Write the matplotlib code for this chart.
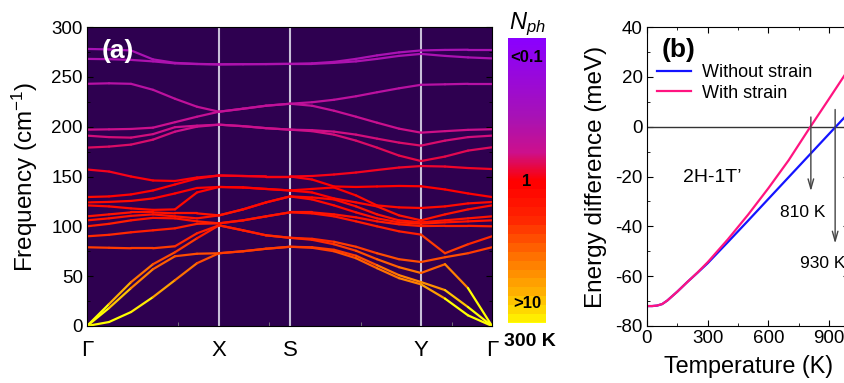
import numpy as np
import matplotlib
matplotlib.use('Agg')
import matplotlib.pyplot as plt
from matplotlib.collections import LineCollection
from matplotlib.colors import LinearSegmentedColormap, ListedColormap, LogNorm
from matplotlib.ticker import MultipleLocator, FixedLocator
from matplotlib.cm import ScalarMappable

plt.rcParams['font.family'] = ['Liberation Sans', 'DejaVu Sans']
plt.rcParams['axes.unicode_minus'] = False
plt.rcParams['mathtext.fontset'] = 'custom'
plt.rcParams['mathtext.rm'] = 'Liberation Sans'
plt.rcParams['mathtext.it'] = 'Liberation Sans:italic'

# ---- panel (a): phonon bands along G-X-S-Y-G ----
k_path = [0, 22, 44, 66, 88, 110, 132, 156, 179, 203, 225, 247, 269, 290, 312, 334, 358, 381, 405]
k_ticks = [0, 132, 203, 334, 405]
k_labels = ['Γ', 'X', 'S', 'Y', 'Γ']

# frequencies (cm-1) of all 18 branches at each k point
freq_cols = [
    [0, 0, 0, 79, 90, 100, 106, 110, 121, 124, 129.4, 157, 179, 191, 197, 243, 268, 278],
    [4, 18, 22, 78.5, 91.5, 102.5, 108, 112, 120, 124.5, 130, 155, 180, 189.5, 197.3, 243.5, 267.7, 277.5],
    [14, 38, 44, 78, 94, 106, 110.5, 114, 118, 125.5, 132, 150, 182, 189, 197.7, 243, 267, 276.5],
    [29, 57, 62, 78, 96, 108.5, 112, 114, 116.5, 128, 136, 146, 187, 192.5, 199, 237, 265.5, 267.5],
    [46, 70, 74, 80, 98, 108, 110, 113, 117, 133, 142, 145.5, 195, 199.5, 204.5, 228, 263.5, 264],
    [63, 72.5, 88, 93, 102.5, 105, 108, 113, 134, 138.5, 148, 149, 200, 201, 210, 220, 262.8, 263],
    [73, 73, 101, 101, 103, 103, 111, 111, 139.5, 139.5, 151, 151, 202, 202, 215, 215, 262.5, 262.5],
    [75, 75, 96, 96, 106, 106, 117, 117, 139, 139, 150.5, 150.5, 200.5, 200.5, 218, 218, 262.7, 262.7],
    [77.5, 77.5, 91, 91, 110, 110, 124, 124, 137.5, 137.5, 150, 150, 198.5, 198.5, 221, 221, 262.8, 262.8],
    [79.5, 79.5, 88.5, 88.5, 114, 114, 130, 130, 136, 136, 150, 150, 197, 197, 223, 223, 263, 263],
    [78.5, 79, 86.5, 87.5, 113, 114, 127, 129, 134, 137.5, 147, 150.5, 196.5, 195.5, 221, 224.5, 263, 263.5],
    [75, 76.5, 82, 84.5, 110, 112, 121, 127, 128, 139, 140, 152, 195, 192, 216, 227, 264, 265],
    [68, 70.5, 75.5, 79.5, 105, 109, 114, 124, 120, 139.5, 131, 154, 192, 186, 210, 230.5, 265.5, 268],
    [58, 61, 67, 73, 100, 105, 108, 121, 112, 140, 120, 156.5, 188, 179, 204, 234.5, 268, 271.5],
    [48, 51, 59, 67, 95, 102, 104, 119, 106, 140.5, 111, 159, 184, 171, 198, 238.5, 271, 274.5],
    [41.8, 44.1, 53.2, 64.2, 91.7, 100.3, 102.7, 118.4, 104, 140.2, 106, 160.5, 181, 165.5, 194, 242, 273, 276.5],
    [27.5, 36, 62, 69, 73, 100.5, 104, 106, 112, 120, 137, 160, 170, 186, 195.5, 242.5, 271, 277],
    [10.7, 19, 38, 73, 82, 100.5, 105, 108, 117, 123, 133, 158.5, 176, 189.5, 196.8, 243, 269.5, 277.2],
    [0, 0, 0, 79, 90, 100, 106, 110, 121, 124.4, 129.4, 157.5, 179.3, 191, 197.4, 243, 268.5, 277.2],
]

# ---- panel (b): 2H-1T' energy difference ----
temperature = [0, 25, 50, 75, 100, 150, 200, 250, 300, 400, 500, 600, 700, 800, 900, 1000]
e_without = [-72, -72, -71.8, -71.2, -69.8, -66.2, -62.3, -58.6, -54.8, -46.3, -37.7, -29.0, -20.3, -11.6, -2.9, 5.8]
e_with = [-72, -72, -71.8, -71.2, -69.8, -66.2, -62.3, -58.5, -54.4, -45.2, -35.3, -24.7, -13.5, -1.0, 11.2, 23.5]
t_trans = [810, 930]

# colour map for phonon occupation N_ph (purple = few, yellow = many)
base = LinearSegmentedColormap.from_list('nph', [
    (0.0, '#8a00ff'), (0.28, '#a812b4'), (0.40, '#cc108c'), (0.5, '#ff0000'),
    (0.62, '#ff2400'), (0.75, '#ff7000'), (0.88, '#ffb000'), (1.0, '#ffff00')])
vals = np.linspace(0, 1, 256)
steps = np.where(vals > 0.5, 0.5 + np.floor((vals - 0.5) * 32) / 32, vals)
cmap = ListedColormap(base(steps))
norm = LogNorm(0.1, 10)

fig = plt.figure(figsize=(8.45, 3.83), dpi=100)

ax = fig.add_axes([87/845, 57/383, 405/845, 299/383])
ax.set_facecolor('#2e0050')
freqs = np.sort(np.array(freq_cols), axis=1)
k = np.array(k_path, dtype=float)
segs, cols = [], []
for b in range(freqs.shape[1]):
    f = freqs[:, b]
    for i in range(len(k) - 1):
        segs.append([(k[i], f[i]), (k[i+1], f[i+1])])
        fm = max(0.5 * (f[i] + f[i+1]), 0.5)
        cols.append(1.0 / (np.exp(fm / 208.5) - 1.0))
lc = LineCollection(segs, cmap=cmap, norm=norm, linewidths=1.6, capstyle='round')
lc.set_array(np.clip(cols, 0.1, 10))
ax.add_collection(lc)
for kt in k_ticks[1:-1]:
    ax.axvline(kt, color='#c8c0d8', lw=1.5, zorder=0.5)
ax.set_xlim(0, 405)
ax.set_ylim(0, 300)
ax.set_xticks(k_ticks)
ax.set_xticklabels(k_labels, fontsize=16)
ax.xaxis.set_minor_locator(FixedLocator([91, 182, 274, 365]))
ax.tick_params(axis='x', which='major', length=0, pad=10)
ax.tick_params(axis='x', which='minor', length=3, color='#808080', direction='in')
ax.yaxis.set_major_locator(MultipleLocator(50))
ax.yaxis.set_minor_locator(MultipleLocator(25))
ax.tick_params(axis='y', which='both', direction='in', left=True, right=True, labelsize=13.5, pad=3)
ax.tick_params(axis='y', which='major', length=4)
ax.tick_params(axis='y', which='minor', length=2.5)
ax.set_ylabel('Frequency (cm$^{-1}$)', fontsize=17.5, labelpad=8)
ax.text(0.037, 0.92, '(a)', transform=ax.transAxes, color='white', fontsize=19,
        fontweight='bold', ha='left', va='center')

cax = fig.add_axes([508/845, 60/383, 38/845, 285/383])
cb = fig.colorbar(ScalarMappable(norm=norm, cmap=cmap), cax=cax)
cax.invert_yaxis()
cb.outline.set_visible(False)
cax.set_yticks([])
cax.minorticks_off()
cax.tick_params(which='both', length=0, labelright=False)
fig.text(527/845, 1 - 57/383, '<0.1', fontsize=12, fontweight='bold', ha='center', va='center')
fig.text(527/845, 1 - 181/383, '1', fontsize=12, fontweight='bold', ha='center', va='center')
fig.text(527/845, 1 - 303/383, '>10', fontsize=12, fontweight='bold', ha='center', va='center')
fig.text(527/845, 1 - 24/383, '$N_{ph}$', fontsize=17, ha='center', va='center')
fig.text(530/845, 1 - 342/383, '300 K', fontsize=14, fontweight='bold', ha='center', va='center')

bx = fig.add_axes([647/845, 57/383, 202.3/845, 299/383])
bx.axhline(0, color='#333333', lw=1.0)
bx.plot(temperature, e_without, color='#1414ff', lw=1.6, label='Without strain')
bx.plot(temperature, e_with, color='#ff1480', lw=1.6, label='With strain')
bx.annotate('', xy=(t_trans[0], -27), xytext=(t_trans[0], 5),
            arrowprops=dict(arrowstyle='->,head_length=0.7,head_width=0.2', color='#444444', lw=1))
bx.annotate('', xy=(t_trans[1], -48), xytext=(t_trans[1], 8),
            arrowprops=dict(arrowstyle='->,head_length=0.7,head_width=0.2', color='#444444', lw=1))
bx.text(770, -34.6, f'{t_trans[0]} K', fontsize=12.5, ha='center', va='center')
bx.text(756, -55, f'{t_trans[1]} K', fontsize=12.5, ha='left', va='center')
bx.text(178, -20.6, '2H-1T’', fontsize=14, ha='left', va='center')
bx.text(0.074, 0.923, '(b)', transform=bx.transAxes, fontsize=19, fontweight='bold',
        ha='left', va='center')
bx.set_xlim(0, 1000)
bx.set_ylim(-80, 40)
bx.xaxis.set_major_locator(MultipleLocator(300))
bx.xaxis.set_minor_locator(MultipleLocator(150))
bx.yaxis.set_major_locator(MultipleLocator(20))
bx.yaxis.set_minor_locator(MultipleLocator(10))
bx.tick_params(which='both', direction='in', top=True, right=True, labelsize=13.5, pad=3)
bx.tick_params(which='major', length=4)
bx.tick_params(which='minor', length=2.5)
bx.set_xlabel('Temperature (K)', fontsize=16.8, labelpad=6)
bx.set_ylabel('Energy difference (meV)', fontsize=17.5, labelpad=6)
bx.legend(frameon=False, loc='upper left', bbox_to_anchor=(0.049, 0.876), fontsize=13,
          handlelength=1.9, handletextpad=0.6, labelspacing=0.2, borderaxespad=0, borderpad=0)

fig.savefig('out.png', dpi=100)
